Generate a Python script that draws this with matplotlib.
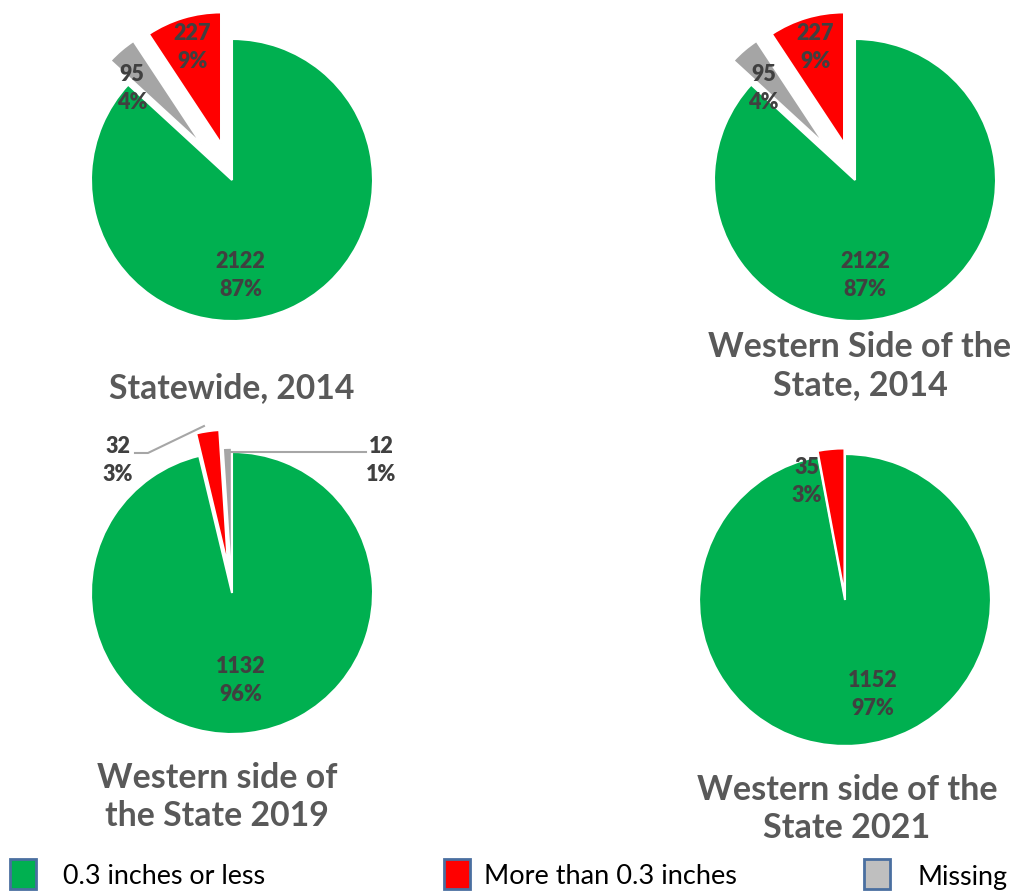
import matplotlib
matplotlib.use("Agg")
import matplotlib.pyplot as plt
from matplotlib.patches import Rectangle

# ---------------- data ----------------
CATEGORIES = ["0.3 inches or less", "More than 0.3 inches", "Missing"]
STATEWIDE_2014 = [2122, 227, 95]
WESTERN_2014 = [2122, 227, 95]
WESTERN_2019 = [1132, 32, 12]
WESTERN_2021 = [1152, 35, 0]
TITLES = ["Statewide, 2014", "Western Side of the\nState, 2014",
          "Western side of\nthe State 2019", "Western side of the\nState 2021"]

# ---------------- style ----------------
W, H = 1015, 893
PIE_COLORS = ["#00B050", "#FF0000", "#A5A5A5"]
LEG_COLORS = ["#00B050", "#FF0000", "#BFBFBF"]
LABEL_COLOR = "#404040"
TITLE_COLOR = "#595959"
UNIT = 141.0  # px per unit radius
FONT = ["Lato", "DejaVu Sans"]

fig = plt.figure(figsize=(W / 100, H / 100), dpi=100)
fig.patch.set_facecolor("white")
canvas = fig.add_axes([0, 0, 1, 1])
canvas.set_xlim(0, W)
canvas.set_ylim(H, 0)
canvas.axis("off")
renderer = fig.canvas.get_renderer()


def fit_text(ax, x, y, s, target_w, size0, **kw):
    t = ax.text(x, y, s, fontsize=size0, **kw)
    w = t.get_window_extent(renderer=renderer).width
    t.set_fontsize(size0 * target_w / w)
    return t


pies = [
    dict(vals=STATEWIDE_2014, c=(232, 180), r=1.0, order=[0, 2, 1],
         explode={2: 0.33, 1: 0.27}, shrink={2: 0.88, 1: 0.93},
         lab={0: (0.06, -0.68), 1: (-0.28, 0.94), 2: (-0.71, 0.65)},
         title_c=(232, 388), title_w=245),
    dict(vals=WESTERN_2014, c=(855, 180), r=1.0, order=[0, 2, 1],
         explode={2: 0.33, 1: 0.27}, shrink={2: 0.88, 1: 0.93},
         lab={0: (0.07, -0.68), 1: (-0.28, 0.94), 2: (-0.65, 0.65)},
         title_c=(860, 366), title_w=302),
    dict(vals=WESTERN_2019, c=(232, 593), r=1.0, order=[0, 1, 2],
         explode={1: 0.19, 2: 0.03}, shrink={1: 0.97},
         lab={0: (0.06, -0.62), 1: (-0.81, 0.94), 2: (1.06, 0.94)},
         leaders={1: [(-0.688, 0.993), (-0.596, 0.993), (-0.199, 1.184)],
                  2: [(0.95, 1.0), (-0.035, 1.0)]},
         title_c=(217, 797), title_w=240),
    dict(vals=WESTERN_2021, c=(845, 600), r=1.035, order=[0, 1, 2],
         explode={1: 0.04}, shrink={},
         lab={0: (0.2, -0.67), 1: (-0.27, 0.84)},
         title_c=(847, 809), title_w=300),
]

HALF = 220
for p, title in zip(pies, TITLES):
    cx, cy = p["c"]
    ax = fig.add_axes([(cx - HALF) / W, 1 - (cy + HALF) / H, 2 * HALF / W, 2 * HALF / H])
    ax.patch.set_alpha(0)

    vals = p["vals"]
    total = sum(vals)
    idx = [i for i in p["order"] if vals[i] > 0]
    wedges, _ = ax.pie([vals[i] for i in idx], colors=[PIE_COLORS[i] for i in idx],
                       explode=[p["explode"].get(i, 0) for i in idx],
                       startangle=90, counterclock=False, radius=p["r"],
                       wedgeprops=dict(edgecolor="white", linewidth=1.5))
    for w, i in zip(wedges, idx):
        if i in p["shrink"]:
            w.set_radius(w.r * p["shrink"][i])
    ax.set_xlim(-HALF / UNIT, HALF / UNIT)
    ax.set_ylim(-HALF / UNIT, HALF / UNIT)
    ax.set_aspect("equal")
    ax.axis("off")

    for i in idx:
        lx, ly = p["lab"][i]
        pct = round(100 * vals[i] / total)
        ax.text(lx, ly, f"{vals[i]}\n{pct}%", ha="center", va="center",
                fontsize=15.5, fontweight="heavy", color=LABEL_COLOR,
                family=FONT, linespacing=1.42)
    for i, pts in p.get("leaders", {}).items():
        ax.plot([q[0] for q in pts], [q[1] for q in pts], color="#A6A6A6", lw=1.5)

    tx, ty = p["title_c"]
    lines = title.split("\n")
    longest = max(lines, key=len)
    t = fit_text(canvas, tx, ty, longest, p["title_w"], 22, fontweight="bold",
                 family=FONT, color=TITLE_COLOR, ha="center", va="center")
    t.set_text(title)
    t.set_linespacing(1.25)

# legend
leg_box_x = [10, 444, 864]
leg_txt_x = [63, 484, 918]
leg_txt_w = [202, 252, 90]
for k, cat in enumerate(CATEGORIES):
    canvas.add_patch(Rectangle((leg_box_x[k], 859), 26, 30, facecolor=LEG_COLORS[k],
                               edgecolor="#4A6FA0", linewidth=2))
    fit_text(canvas, leg_txt_x[k], 877, cat, leg_txt_w[k], 18, family=FONT,
             color="black", ha="left", va="center")

fig.savefig("out.png", dpi=100)
